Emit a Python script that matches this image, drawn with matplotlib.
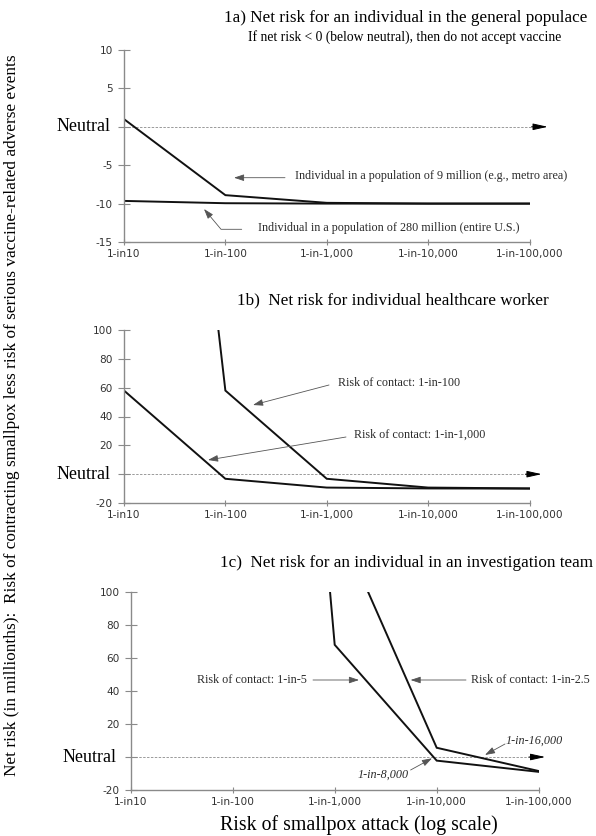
import numpy as np
import matplotlib
matplotlib.use("Agg")
import matplotlib.pyplot as plt
from matplotlib.patches import FancyArrowPatch

# --- data (values at each decade of attack risk) ---
attack = [10, 100, 1000, 10000, 100000]
attack_labels = ['1-in10', '1-in-100', '1-in-1,000', '1-in-10,000', '1-in-100,000']

# 1a) general populace
metro_9m = [1.0, -8.9, -9.9, -10.0, -10.0]
us_280m = [-9.65, -9.95, -10.0, -10.0, -10.0]

# 1b) healthcare worker
contact_100 = [670, 58, -3.2, -9.3, -9.9]
contact_1000 = [58, -3.2, -9.3, -9.9, -10.0]

# 1c) investigation team (starts at 1-in-100)
attack_c = [100, 1000, 10000, 100000]
contact_5 = [770, 68, -2.2, -9.0]
contact_2_5 = [1450, 146, 5.6, -8.5]

ticks_a = [10, 5, 0, -5, -10, -15]
ticks_bc = [100, 80, 60, 40, 20, 0, -20]

W, H = 596, 836
SERIF = 'Liberation Serif'
SANS = 'DejaVu Sans'
GRAY = '#8a8a8a'
TXT = '#2a2a2a'


def fx(x):
    return x / W


def fy(y):
    return 1 - y / H


fig = plt.figure(figsize=(W / 100, H / 100), dpi=100)


def make_axes(rect, ylim, yticks, arrow_end):
    ax = fig.add_axes(rect)
    ax.set_xscale('log')
    ax.set_xlim(10, 100000)
    ax.set_ylim(*ylim)
    ax.set_xticks(attack)
    ax.set_xticklabels(attack_labels, family=SANS)
    ax.minorticks_off()
    ax.set_yticks(yticks)
    ax.set_yticklabels(['' if t == 0 else str(t) for t in yticks], family=SANS)
    for s in ['top', 'right']:
        ax.spines[s].set_visible(False)
    for s in ['left', 'bottom']:
        ax.spines[s].set_color(GRAY)
        ax.spines[s].set_linewidth(1.0)
    ax.tick_params(axis='y', direction='inout', length=8, width=0.8,
                   color=GRAY, pad=4, labelsize=7.6, labelcolor='#333333')
    ax.tick_params(axis='x', direction='inout', length=4, width=0.8,
                   color=GRAY, pad=3, labelsize=7.6, labelcolor='#333333')
    tr = ax.get_yaxis_transform()
    # big serif "Neutral" in place of the 0 tick label
    ax.annotate('Neutral', xy=(0, 0), xycoords=tr, xytext=(-10, 0),
                textcoords='offset points', ha='right', va='center',
                family=SERIF, fontsize=13)
    # neutral dashed line with arrow
    ax.plot([0, arrow_end - 0.02], [0, 0], transform=tr, color='#9a9a9a',
            lw=0.7, ls=(0, (2.5, 1.5)), clip_on=False, zorder=1)
    ax.annotate('', xy=(arrow_end, 0), xycoords=tr,
                xytext=(arrow_end - 0.04, 0), textcoords=tr,
                arrowprops=dict(arrowstyle='-|>,head_length=0.9,head_width=0.2',
                                color='black', lw=0.7, shrinkA=0, shrinkB=0))
    return ax


def note(text, pos, ha='left', italic=False):
    fig.text(fx(pos[0]), fy(pos[1]), text, ha=ha, va='center', color=TXT,
             family=SERIF, fontsize=8.7, style='italic' if italic else 'normal')


def pointer(start, end, conn='arc3,rad=0'):
    fig.add_artist(FancyArrowPatch(
        (fx(start[0]), fy(start[1])), (fx(end[0]), fy(end[1])),
        transform=fig.transFigure, connectionstyle=conn,
        arrowstyle='-|>,head_length=0.6,head_width=0.2',
        color='#555555', lw=0.6, shrinkA=0, shrinkB=0, mutation_scale=10))


line_kw = dict(color='#111111', lw=1.4, solid_joinstyle='miter')

# --- 1a ---
ax1 = make_axes([fx(124), fy(242), 405.5 / W, 192 / H], (-15, 10), ticks_a, 1.045)
ax1.plot(attack, metro_9m, **line_kw)
ax1.plot(attack, us_280m, **line_kw)
fig.text(fx(405.5), fy(18), '1a) Net risk for an individual in the general populace',
         ha='center', va='center', family=SERIF, fontsize=12.3)
fig.text(fx(405), fy(37), 'If net risk < 0 (below neutral), then do not accept vaccine',
         ha='center', va='center', family=SERIF, fontsize=9.8)
note('Individual in a population of 9 million (e.g., metro area)', (295, 176))
pointer((285, 177.7), (234, 177.7))
note('Individual in a population of 280 million (entire U.S.)', (258, 228))
pointer((241.7, 229.3), (204, 209), conn='angle,angleA=0,angleB=-50,rad=0')

# --- 1b ---
ax2 = make_axes([fx(124), fy(503), 405.5 / W, 173 / H], (-20, 100), ticks_bc, 1.03)
ax2.plot(attack, contact_100, **line_kw)
ax2.plot(attack, contact_1000, **line_kw)
fig.text(fx(392.5), fy(300), '1b)  Net risk for individual healthcare worker',
         ha='center', va='center', family=SERIF, fontsize=12.3)
note('Risk of contact: 1-in-100', (338, 383.3))
pointer((329, 385), (253, 405))
note('Risk of contact: 1-in-1,000', (353.6, 435))
pointer((346, 437), (208, 460))

# --- 1c ---
ax3 = make_axes([fx(130.7), fy(790), 408 / W, 198 / H], (-20, 100), ticks_bc, 1.016)
ax3.plot(attack_c, contact_5, **line_kw)
ax3.plot(attack_c, contact_2_5, **line_kw)
fig.text(fx(406), fy(563), '1c)  Net risk for an individual in an investigation team',
         ha='center', va='center', family=SERIF, fontsize=12.3)
note('Risk of contact: 1-in-5', (307, 680), ha='right')
pointer((313, 680), (359, 680))
note('Risk of contact: 1-in-2.5', (470.7, 680))
pointer((466, 680), (410.6, 680))
note('1-in-16,000', (506, 740.7), italic=True)
pointer((505, 744), (485, 755))
note('1-in-8,000', (408.7, 775), ha='right', italic=True)
pointer((410.6, 770), (432, 758.3))

# axis labels
fig.text(fx(12), fy(415),
         'Net risk (in millionths):  Risk of contracting smallpox less risk of serious vaccine-related adverse events',
         rotation=90, ha='center', va='center', family=SERIF, fontsize=12.4)
fig.text(fx(359), fy(825), 'Risk of smallpox attack (log scale)',
         ha='center', va='center', family=SERIF, fontsize=14.3)

fig.savefig('out.png', dpi=100)
